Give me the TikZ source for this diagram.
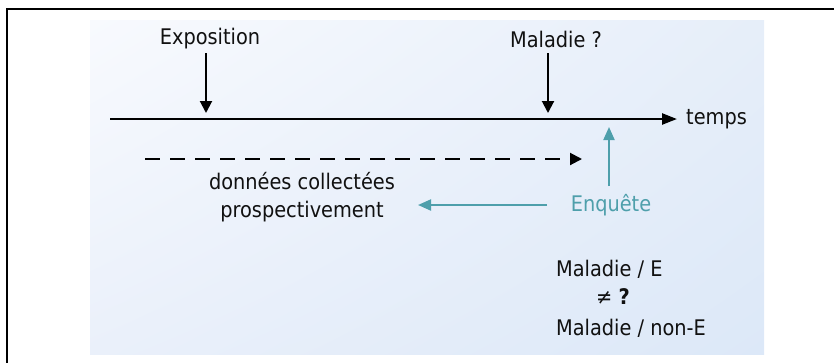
\documentclass[tikz,border=0pt]{standalone}
\usepackage{fontspec}
\setmainfont{DejaVu Sans Condensed}
\usetikzlibrary{arrows.meta,shadings}
\definecolor{panelA}{HTML}{F8FAFE}
\definecolor{panelB}{HTML}{E6EEF9}
\definecolor{panelC}{HTML}{EAF0FA}
\definecolor{panelD}{HTML}{DCE8F8}
\definecolor{teal}{HTML}{4E9FAB}
\definecolor{ink}{HTML}{111111}
\begin{document}
\begin{tikzpicture}[x=1pt,y=-1pt,
  lbl/.style={font=\fontsize{21.5}{26}\selectfont, text=ink, inner sep=0pt},
  tip/.style={-{Triangle[length=12pt,width=12pt]}},
  blackarrow/.style={tip, draw=black, line width=2pt},
  tealarrow/.style={tip, draw=teal, line width=2pt},
]
\useasboundingbox (0,0) rectangle (834,362);
% shaded panel
\shade[upper left=panelA, upper right=panelB, lower left=panelC, lower right=panelD]
  (90,20) rectangle (764,354);
% partial outer frame
\draw[line width=2.6pt, line cap=rect] (834,9) -- (7,9) -- (7,362);

% time axis
\coordinate (t0) at (110,119);
\node[lbl, anchor=west] (temps) at (686,119) {temps};
\draw[-{Triangle[length=15pt,width=11pt]}, line width=2.5pt, shorten >=9pt] (t0) -- (temps.west);

% events
\node[lbl] (expo) at (210,39) {Exposition};
\node[lbl] (mal) at (556,39) {Maladie ?};
\coordinate (expoT) at (206,113);
\coordinate (malT) at (548,113);
\draw[blackarrow] (206,53) -- (expoT);
\draw[blackarrow] (548,53) -- (malT);

% prospective data collection
\coordinate (d0) at (145,159);
\coordinate (d1) at (582,159);
\draw[blackarrow, dash pattern=on 15pt off 10pt] (d0) -- (d1);
\node[lbl, align=center] (data) at (302,197) {données collectées\\[2pt]prospectivement};

% survey
\node[lbl, text=teal] (enq) at (611,205) {Enquête};
\coordinate (enqUp) at (609,127);
\coordinate (enqLeft) at (418,205);
\draw[tealarrow, -{Triangle[length=13pt,width=11pt]}] (609,186) -- (enqUp);
\draw[tealarrow, -{Triangle[length=13pt,width=11pt]}] (547,205) -- (enqLeft);

% comparison
\node[lbl, anchor=west] (mE) at (556,269) {Maladie / E};
\node[lbl, anchor=west] (neq) at (596,297) {≠ \textbf{?}};
\node[lbl, anchor=west] (mnE) at (556,328) {Maladie / non-E};
\end{tikzpicture}
\end{document}
